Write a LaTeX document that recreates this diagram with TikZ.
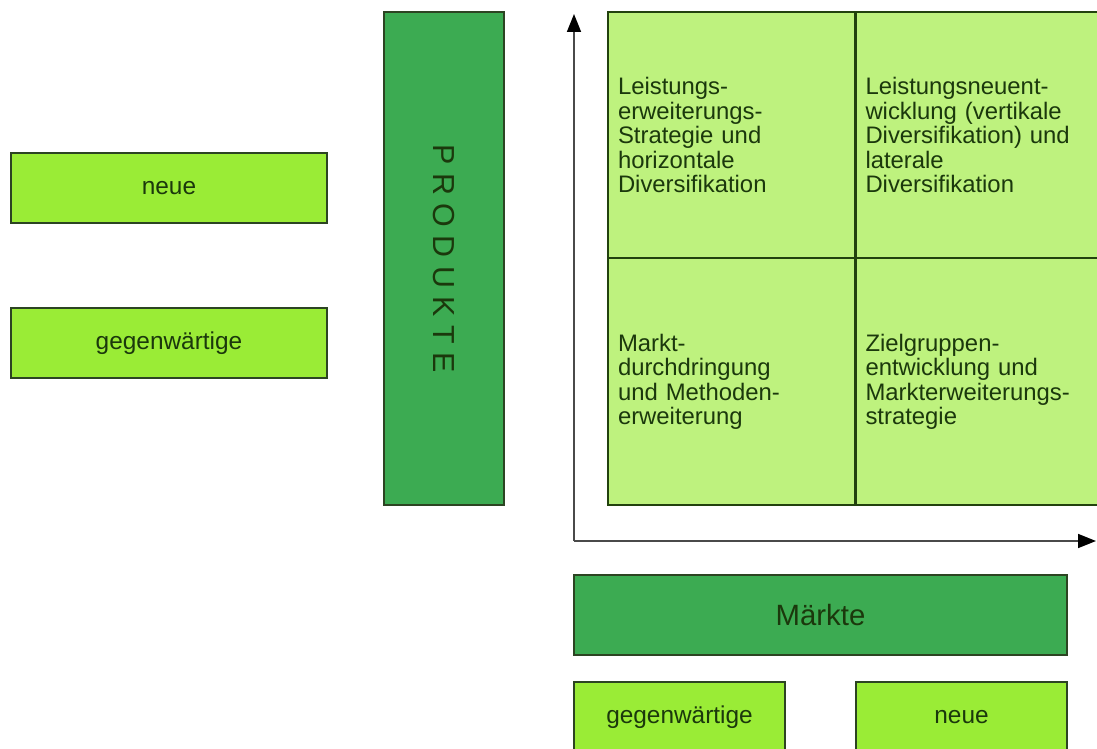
\documentclass[tikz,border=0pt]{standalone}
\usepackage{fontspec}
\setmainfont{Liberation Sans}
\usetikzlibrary{arrows.meta}

\definecolor{lime}{HTML}{9AEC36}
\definecolor{cellfill}{HTML}{BEF27E}
\definecolor{darkgreen}{HTML}{3CAB52}
\definecolor{edge}{HTML}{2C4422}
\definecolor{celledge}{HTML}{22420E}
\definecolor{ink}{HTML}{1B380C}
\definecolor{axis}{HTML}{4A4A4A}

\tikzset{
  box/.style={draw=edge, line width=1.3pt, rectangle, inner sep=0pt,
    text=ink, font=\fontsize{18.3}{20}\selectfont},
  limebox/.style={box, fill=lime, minimum height=52.5pt},
  headbox/.style={box, fill=darkgreen},
  cell/.style={draw=celledge, line width=1.6pt, fill=cellfill, rectangle,
    minimum width=185.25pt, minimum height=185pt, inner xsep=7.5pt, inner ysep=0pt,
    text width=170.25pt, align=left, text=ink,
    font=\fontsize{17.9}{18.45}\selectfont},
  axisline/.style={draw=axis, line width=1.3pt,
    -{Triangle[length=13.5pt,width=10.5pt,color=black]}}
}

\begin{document}
\begin{tikzpicture}[x=0.75pt,y=-0.75pt]
\useasboundingbox (0,0) rectangle (1097,749);
\clip (0,0) rectangle (1097,749);

% product levels on the left
\node[limebox, minimum width=237pt] (pneu) at (169,188) {neue};
\node[limebox, minimum width=237pt] (pgeg) at (169,343) {gegenwärtige};

% vertical heading
\node[headbox, minimum width=90pt, minimum height=369.75pt] (produkte) at (444,258.5) {};
\node[rotate=-90, text=ink, font=\fontsize{22.8}{24}\selectfont] (produktelabel) at (produkte.center) {P R O D U K T E};

% the four strategy cells
\node[cell] (tl) at (731.5,135.25) {Leistungs-\\erweiterungs-\\Strategie und\\horizontale\\Diversifikation};
\node[cell] (tr) at (979,135.25) {Leistungsneuent-\\wicklung (vertikale\\Diversifikation) und\\laterale\\Diversifikation};
\node[cell] (bl) at (731.5,381.75) {Markt-\\durchdringung\\und Methoden-\\erweiterung};
\node[cell] (br) at (979,381.75) {Zielgruppen-\\entwicklung und\\Markterweiterungs-\\strategie};

% axes
\coordinate (origin) at (574,541);
\coordinate (ytip) at (574,14);
\coordinate (xtip) at (1096,541);
\draw[axisline] (origin) -- (ytip);
\draw[axisline] (origin) -- (xtip);

% market heading and levels below
\node[headbox, minimum width=369.75pt, minimum height=60pt, font=\fontsize{22}{24}\selectfont] (maerkte) at (820.5,615) {Märkte};
\node[limebox, minimum width=158.25pt] (mgeg) at (679.5,717) {gegenwärtige};
\node[limebox, minimum width=158.25pt] (mneu) at (961.5,717) {neue};
\end{tikzpicture}
\end{document}
